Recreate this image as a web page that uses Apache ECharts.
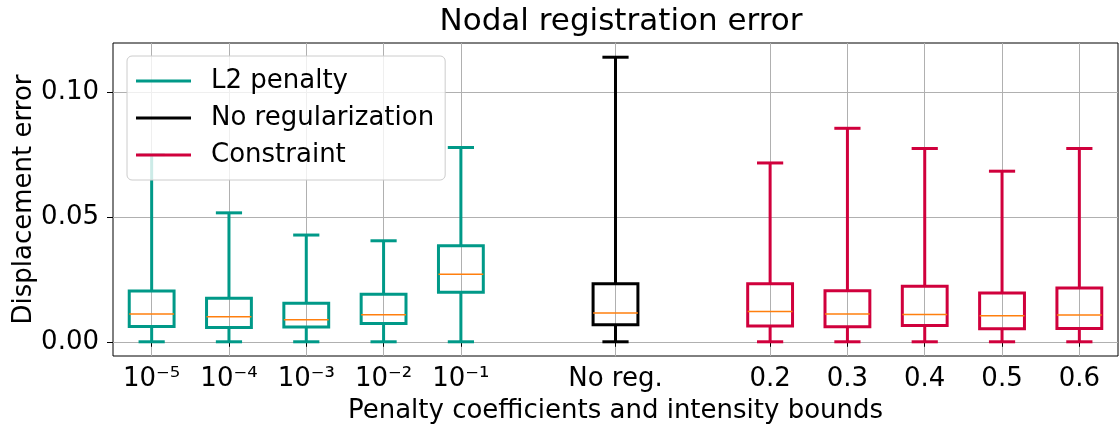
<!DOCTYPE html>
<html>
<head>
<meta charset="utf-8">
<script src="https://cdn.jsdelivr.net/npm/echarts@6/dist/echarts.min.js"></script>
<style>
  html, body { margin: 0; padding: 0; background: #fff; }
  #chart { width: 1119px; height: 430px; }
</style>
</head>
<body>
<div id="chart"></div>
<script>
// ---- data ----
const positions = [1, 2, 3, 4, 5, 7, 9, 10, 11, 12, 13];
const tickLabels = ['10⁻⁵', '10⁻⁴', '10⁻³', '10⁻²', '10⁻¹', 'No reg.', '0.2', '0.3', '0.4', '0.5', '0.6'];
const groups = ['L2 penalty', 'L2 penalty', 'L2 penalty', 'L2 penalty', 'L2 penalty',
                'No regularization',
                'Constraint', 'Constraint', 'Constraint', 'Constraint', 'Constraint'];
const whiskerLow = [0, 0, 0, 0, 0, 0, 0, 0, 0, 0, 0];
const q1 =         [0.0061, 0.0057, 0.0059, 0.0073, 0.0199, 0.0068, 0.0063, 0.0060, 0.0065, 0.0052, 0.0053];
const medians =    [0.0111, 0.0100, 0.0088, 0.0108, 0.0271, 0.0115, 0.0121, 0.0111, 0.0109, 0.0104, 0.0107];
const q3 =         [0.0204, 0.0175, 0.0155, 0.0191, 0.0385, 0.0233, 0.0233, 0.0205, 0.0223, 0.0196, 0.0216];
const whiskerHigh =[0.0750, 0.0517, 0.0428, 0.0405, 0.0779, 0.1141, 0.0717, 0.0856, 0.0775, 0.0684, 0.0775];
const seriesNames = ['L2 penalty', 'No regularization', 'Constraint'];
const yTicks = [0, 0.05, 0.10];

// ---- styles ----
const colors = { 'L2 penalty': '#009988', 'No regularization': '#000000', 'Constraint': '#D0003C' };
const MEDIAN_COLOR = '#ff7f0e';
const BOX_W = 0.58, CAP_W = 0.30;
const FONT = 'DejaVu Sans';
const FS = 26;
const Y_MIN = -0.0057, Y_MAX = 0.1198;

function renderItem(params, api) {
  const x = api.value(0);
  const lo = api.coord([x, api.value(1)]);
  const b1 = api.coord([x, api.value(2)]);
  const md = api.coord([x, api.value(3)]);
  const b3 = api.coord([x, api.value(4)]);
  const hi = api.coord([x, api.value(5)]);
  const bw = api.size([BOX_W, 0])[0];
  const cw = api.size([CAP_W, 0])[0];
  const color = api.visual('color');
  const ls = { stroke: color, lineWidth: 3, fill: null, lineCap: 'square' };
  const cx = lo[0];
  return {
    type: 'group',
    children: [
      { type: 'line', shape: { x1: cx, y1: b1[1], x2: cx, y2: lo[1] }, style: Object.assign({}, ls, {lineCap: 'butt'}) },
      { type: 'line', shape: { x1: cx, y1: b3[1], x2: cx, y2: hi[1] }, style: Object.assign({}, ls, {lineCap: 'butt'}) },
      { type: 'line', shape: { x1: cx - cw / 2, y1: lo[1], x2: cx + cw / 2, y2: lo[1] }, style: ls },
      { type: 'line', shape: { x1: cx - cw / 2, y1: hi[1], x2: cx + cw / 2, y2: hi[1] }, style: ls },
      { type: 'rect', shape: { x: cx - bw / 2, y: b3[1], width: bw, height: b1[1] - b3[1] },
        style: { stroke: color, lineWidth: 3, fill: null, lineJoin: 'miter' } },
      { type: 'line', shape: { x1: cx - bw / 2, y1: md[1], x2: cx + bw / 2, y2: md[1] },
        style: { stroke: MEDIAN_COLOR, lineWidth: 1.5 } }
    ]
  };
}

const series = seriesNames.map(function (name) {
  const data = [];
  positions.forEach(function (p, i) {
    if (groups[i] === name) data.push([p, whiskerLow[i], q1[i], medians[i], q3[i], whiskerHigh[i]]);
  });
  return {
    name: name,
    type: 'custom',
    renderItem: renderItem,
    itemStyle: { color: colors[name] },
    encode: { x: 0, y: [1, 2, 3, 4, 5] },
    data: data,
    z: 3
  };
});

const chart = echarts.init(document.getElementById('chart'), null, { renderer: 'canvas' });
chart.setOption({
  animation: false,
  backgroundColor: '#ffffff',
  textStyle: { fontFamily: FONT },
  title: {
    text: 'Nodal registration error',
    left: 616, top: 1, textAlign: 'center',
    textStyle: { fontFamily: FONT, fontSize: 31, fontWeight: 'normal', color: '#000' }
  },
  legend: {
    left: 127, top: 56, orient: 'vertical',
    data: seriesNames.map(function (n) { return { name: n, icon: 'rect' }; }),
    itemWidth: 55, itemHeight: 3, itemGap: 11,
    padding: [12, 11, 12, 9],
    backgroundColor: 'rgba(255,255,255,0.8)',
    borderColor: '#cccccc', borderWidth: 1, borderRadius: 5,
    textStyle: { fontFamily: FONT, fontSize: FS, color: '#000', padding: [0, 0, 0, 15] },
    z: 10
  },
  grid: { left: 113, right: 1, top: 43, bottom: 74, show: true, borderColor: '#000', borderWidth: 1,
          containLabel: false, outerBoundsMode: 'none' },
  xAxis: {
    type: 'value', min: 0.5, max: 13.5,
    name: 'Penalty coefficients and intensity bounds',
    nameLocation: 'middle', nameGap: 42, nameMoveOverlap: false,
    nameTextStyle: { fontFamily: FONT, fontSize: FS, color: '#000' },
    axisLine: { show: false },
    axisTick: { show: true, customValues: positions, length: 5, lineStyle: { color: '#000', width: 1 } },
    axisLabel: {
      customValues: positions, margin: 10,
      fontFamily: FONT, fontSize: FS, color: '#000',
      formatter: function (v) { const i = positions.indexOf(v); return i >= 0 ? tickLabels[i] : ''; }
    },
    splitLine: { show: true, lineStyle: { color: '#b0b0b0', width: 1 } }
  },
  yAxis: {
    type: 'value', min: Y_MIN, max: Y_MAX,
    name: 'Displacement error',
    nameLocation: 'middle', nameGap: 76, nameRotate: 90, nameMoveOverlap: false,
    nameTextStyle: { fontFamily: FONT, fontSize: FS, color: '#000' },
    axisLine: { show: false },
    axisTick: { show: true, customValues: yTicks, length: 6, lineStyle: { color: '#000', width: 1 } },
    axisLabel: {
      customValues: yTicks, margin: 14,
      fontFamily: FONT, fontSize: FS, color: '#000',
      formatter: function (v) { return v.toFixed(2); }
    },
    splitLine: { show: true, lineStyle: { color: '#b0b0b0', width: 1 } }
  },
  series: series
});
</script>
</body>
</html>
